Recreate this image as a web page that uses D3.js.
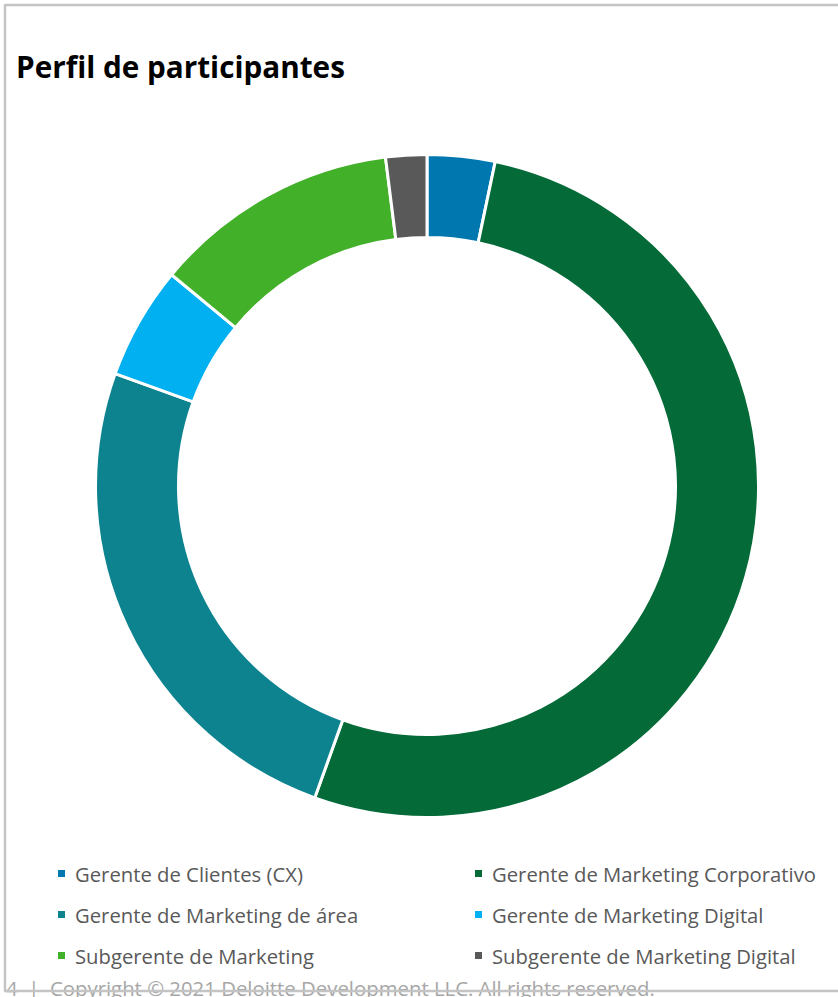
<!DOCTYPE html>
<html>
<head>
<meta charset="utf-8">
<script src="https://cdn.jsdelivr.net/npm/d3@7"></script>
<style>
  html, body { margin: 0; padding: 0; background: #fff; }
  svg { display: block; }
</style>
</head>
<body>
<svg id="chart" width="838" height="997"></svg>
<script>
const title = "Perfil de participantes";
const categories = [
  "Gerente de Clientes (CX)",
  "Gerente de Marketing Corporativo",
  "Gerente de Marketing de área",
  "Gerente de Marketing Digital",
  "Subgerente de Marketing",
  "Subgerente de Marketing Digital"
];
const values = [3.3, 52.2, 25.0, 5.5, 12.0, 2.0];
const colors = ["#0077AE", "#046A38", "#0D8390", "#00B0F0", "#43B02A", "#595959"];
const footer = "4  |  Copyright © 2021 Deloitte Development LLC. All rights reserved.";

const svg = d3.select("#chart");
const W = 838, H = 997;
const font = "'Open Sans', 'Noto Sans', sans-serif";

// fit helper
function fitText(sel, targetWidth) {
  const node = sel.node();
  const fs = parseFloat(sel.attr("font-size"));
  const w = node.getComputedTextLength();
  if (w > 0) sel.attr("font-size", (fs * targetWidth / w).toFixed(2));
}

// frame
const frameColor = "#c4c4c4";
svg.append("line").attr("x1", 5).attr("x2", W).attr("y1", 5).attr("y2", 5)
  .attr("stroke", frameColor).attr("stroke-width", 2.5);
svg.append("line").attr("x1", 5).attr("x2", 5).attr("y1", 4).attr("y2", 991)
  .attr("stroke", frameColor).attr("stroke-width", 2.5);

// title
const t = svg.append("text").attr("x", 16).attr("y", 78)
  .attr("font-family", font).attr("font-weight", "bold").attr("font-size", 28)
  .attr("fill", "#000").text(title);
fitText(t, 329);

// donut
const cx = 427, cy = 486;
const pie = d3.pie().sort(null).value(d => d);
const arc = d3.arc().innerRadius(248.5).outerRadius(331.5);
const g = svg.append("g").attr("transform", `translate(${cx},${cy})`);
g.selectAll("path").data(pie(values)).join("path")
  .attr("d", arc)
  .attr("fill", (d, i) => colors[i])
  .attr("stroke", "#fff").attr("stroke-width", 3).attr("stroke-linejoin", "miter");

// legend
const colX = [58, 475];
const rowY = [882, 923, 964];
const lg = svg.append("g");
categories.forEach((c, i) => {
  const col = i % 2, row = Math.floor(i / 2);
  const x = colX[col], y = rowY[row];
  lg.append("rect").attr("x", x).attr("y", y - 12).attr("width", 7).attr("height", 7)
    .attr("fill", colors[i]);
  lg.append("text").attr("x", x + 17).attr("y", y)
    .attr("font-family", font).attr("font-size", 18).attr("fill", "#595959").text(c);
});
// scale legend font to match reference width of first label
const first = lg.select("text");
const w0 = first.node().getComputedTextLength();
const fs = 18 * 228 / w0;
lg.selectAll("text").attr("font-size", fs.toFixed(2));

// footer
const f = svg.append("text").attr("x", 6).attr("y", 996)
  .attr("font-family", font).attr("font-size", 18).attr("fill", "#a6a6a6")
  .attr("xml:space", "preserve").text(footer);
fitText(f, 649);
svg.append("line").attr("x1", 4).attr("x2", W).attr("y1", 991).attr("y2", 991)
  .attr("stroke", frameColor).attr("stroke-width", 2.5);
</script>
</body>
</html>
